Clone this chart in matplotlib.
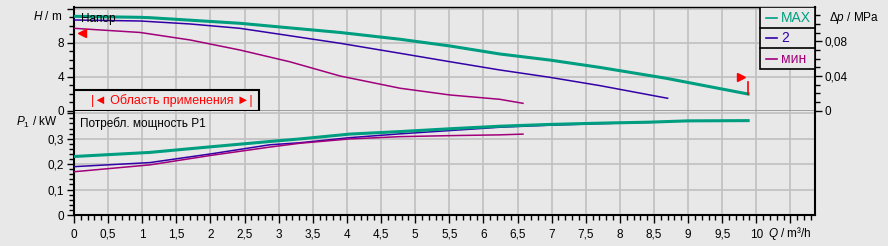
import matplotlib.pyplot as plt
from matplotlib.ticker import MultipleLocator, FixedLocator, FuncFormatter
from matplotlib.patches import Rectangle

plt.rcParams['font.family'] = ['Liberation Sans', 'DejaVu Sans']
plt.rcParams['mathtext.fontset'] = 'custom'
plt.rcParams['mathtext.rm'] = 'Liberation Sans'
plt.rcParams['mathtext.it'] = 'Liberation Sans:italic'

# Kennlinien: Förderhöhe H (m) über Q (m³/h)
q_h_max = [0, 0.97, 1.11, 2.43, 3.31, 3.90, 4.78, 5.51, 6.24, 6.97, 7.70, 8.68, 9.88]
h_max = [11.1, 10.98, 10.94, 10.28, 9.63, 9.2, 8.4, 7.61, 6.67, 5.96, 5.1, 3.81, 1.96]
q_h_2 = [0, 0.97, 1.70, 2.43, 3.16, 3.90, 4.78, 5.51, 6.24, 6.97, 7.70, 8.70]
h_2 = [10.67, 10.55, 10.2, 9.69, 8.82, 7.93, 6.75, 5.76, 4.79, 3.93, 2.96, 1.46]
q_h_min = [0, 0.97, 1.70, 2.43, 3.16, 3.90, 4.78, 5.51, 6.24, 6.58]
h_min = [9.69, 9.2, 8.32, 7.14, 5.76, 4.08, 2.64, 1.85, 1.34, 0.87]

# Leistungsaufnahme P1 (kW)
q_p_max = [0, 1.11, 2.0, 2.87, 3.31, 4.04, 4.78, 5.51, 6.24, 6.97, 7.70, 8.44, 8.99, 9.88]
p_max = [0.230, 0.246, 0.268, 0.289, 0.299, 0.318, 0.328, 0.339, 0.349, 0.356, 0.361, 0.365, 0.370, 0.371]
q_p_2 = [0, 1.11, 2.0, 2.87, 3.31, 4.04, 4.78, 5.51, 6.24, 6.97, 7.70, 8.70]
p_2 = [0.190, 0.206, 0.240, 0.276, 0.284, 0.304, 0.319, 0.332, 0.345, 0.353, 0.359, 0.366]
q_p_min = [0, 1.11, 2.0, 2.87, 3.31, 4.04, 4.78, 5.51, 6.24, 6.58]
p_min = [0.170, 0.197, 0.234, 0.267, 0.282, 0.299, 0.308, 0.312, 0.315, 0.318]

names = ['MAX', '2', 'мин']
colors = ['#009e80', '#3300a8', '#a0007a']
widths = [2.2, 1.1, 1.1]

# Einsatzbereich
range_left_h = 9.1
range_right_flag_h = 3.96

bg = '#e8e8e8'
grid_c = '#c0c0c0'
W, Hpx = 888, 246


def comma(v, pos):
    s = f'{v:g}'
    return s.replace('.', ',')


fig = plt.figure(figsize=(W / 100, Hpx / 100), dpi=100, facecolor=bg)
x0, x1 = 74, 815
ax1 = fig.add_axes([x0 / W, 1 - 110.7 / Hpx, (x1 - x0) / W, (110.7 - 7.3) / Hpx])
ax2 = fig.add_axes([x0 / W, 1 - 215 / Hpx, (x1 - x0) / W, (215 - 110.7) / Hpx], sharex=ax1)

for ax in (ax1, ax2):
    ax.set_facecolor(bg)
    ax.set_xlim(0, 10.86)
    ax.xaxis.set_major_locator(MultipleLocator(0.5))
    ax.xaxis.set_minor_locator(MultipleLocator(0.1))
    ax.xaxis.set_major_formatter(FuncFormatter(lambda v, p: '' if v > 10.2 else comma(v, p)))
    ax.grid(True, which='major', color=grid_c, lw=1.2)
    ax.set_axisbelow(True)
    for sp in ax.spines.values():
        sp.set_color('black')
    ax.spines['left'].set_linewidth(1.5)
    ax.spines['right'].set_linewidth(1.5)
    ax.tick_params(axis='both', which='major', direction='out', length=5, width=1, labelsize=8.5, pad=2)
    ax.tick_params(axis='both', which='minor', direction='out', length=3.5, width=1)

ax1.set_ylim(0, 12.16)
ax1.yaxis.set_major_locator(FixedLocator([0, 4, 8, 12]))
ax1.yaxis.set_major_formatter(FuncFormatter(lambda v, p: '' if v > 10 else comma(v, p)))
ax1.yaxis.set_minor_locator(MultipleLocator(1))
ax1.tick_params(axis='x', which='both', bottom=False, labelbottom=False)
ax1.spines['top'].set_linewidth(1.0)
ax1.spines['bottom'].set_linewidth(1.0)

ax2.set_ylim(0, 0.41)
ax2.yaxis.set_major_locator(MultipleLocator(0.1))
ax2.yaxis.set_major_formatter(FuncFormatter(lambda v, p: '' if v > 0.35 else comma(round(v, 2), p)))
ax2.yaxis.set_minor_locator(MultipleLocator(0.02))
ax2.spines['top'].set_visible(False)
ax2.spines['bottom'].set_linewidth(1.5)
ax2.tick_params(axis='x', which='major', length=6, pad=4)

# Δp-Achse rechts
axr = ax1.twinx()
axr.set_ylim(0, 12.16 * 0.00981)
axr.yaxis.set_major_locator(FixedLocator([0, 0.04, 0.08]))
axr.yaxis.set_major_formatter(FuncFormatter(lambda v, p: comma(round(v, 2), p)))
axr.yaxis.set_minor_locator(MultipleLocator(0.01))
axr.tick_params(which='major', direction='out', length=5, width=1, labelsize=8.5, pad=2)
axr.tick_params(which='minor', direction='out', length=3.5, width=1)
for sp in axr.spines.values():
    sp.set_visible(False)

for q, h, c, w in zip([q_h_max, q_h_2, q_h_min], [h_max, h_2, h_min], colors, widths):
    ax1.plot(q, h, color=c, lw=w, zorder=3 if w > 2 else 4)
for q, p, c, w in zip([q_p_max, q_p_2, q_p_min], [p_max, p_2, p_min], colors, widths):
    ax2.plot(q, p, color=c, lw=w, zorder=3 if w > 2 else 4)
# MAX vorne im Leistungsteil
ax2.lines[0].set_zorder(5)

# Einsatzbereich-Markierungen
ax1.plot([q_h_max[0] + 0.12], [range_left_h], marker='<', color='red', ms=6, zorder=6, clip_on=False)
ax1.plot([q_h_max[-1] - 0.1], [range_right_flag_h], marker='>', color='red', ms=6, zorder=6)
ax1.plot([q_h_max[-1], q_h_max[-1]], [h_max[-1], range_right_flag_h - 0.6], color='red', lw=1.2, zorder=6)

ax1.add_patch(Rectangle((0, 0), (259 - x0) / (x1 - x0), 0.2, transform=ax1.transAxes,
                        facecolor=bg, edgecolor='black', lw=1.5, zorder=7))
ax1.text((171.5 - x0) / (x1 - x0), 0.1, '|◄ Область применения ►|', transform=ax1.transAxes,
         color='red', fontsize=9, ha='center', va='center', zorder=8)

# Legende mit Trennlinien
lx0 = (760 - x0) / (x1 - x0)
ly0 = (110.7 - 69) / (110.7 - 7.3)
ax1.add_patch(Rectangle((lx0, ly0), 1 - lx0, 1 - ly0, transform=ax1.transAxes,
                        facecolor=bg, edgecolor='black', lw=1.2, zorder=7))
row_h = (1 - ly0) / 3
for i, (n, c) in enumerate(zip(names, colors)):
    yc = 1 - row_h * (i + 0.5)
    if i > 0:
        ax1.plot([lx0, 1], [1 - row_h * i] * 2, color='black', lw=1.2, transform=ax1.transAxes, zorder=8)
    ax1.plot([(766 - x0) / (x1 - x0), (777 - x0) / (x1 - x0)], [yc, yc], color=c, lw=1.2,
             transform=ax1.transAxes, zorder=8)
    ax1.text((781 - x0) / (x1 - x0), yc, n, color=c, fontsize=10, ha='left', va='center',
             transform=ax1.transAxes, zorder=8)

fig.text(62 / W, 1 - 17 / Hpx, '$H$ / m', fontsize=8.5, ha='right', va='center')
fig.text(57 / W, 1 - 122 / Hpx, '$P_1$ / kW', fontsize=8.5, ha='right', va='center')
fig.text(829 / W, 1 - 18 / Hpx, r'$\Delta p$ / MPa', fontsize=8.5, ha='left', va='center')
fig.text(812 / W, 1 - 233 / Hpx, '$Q$ / m³/h', fontsize=8.5, ha='right', va='center')
fig.text(81 / W, 1 - 19 / Hpx, 'Напор', fontsize=8.5, ha='left', va='center')
fig.text(80 / W, 1 - 124 / Hpx, 'Потребл. мощность P1', fontsize=8.5, ha='left', va='center')

fig.savefig('out.png', dpi=100, facecolor=bg)
